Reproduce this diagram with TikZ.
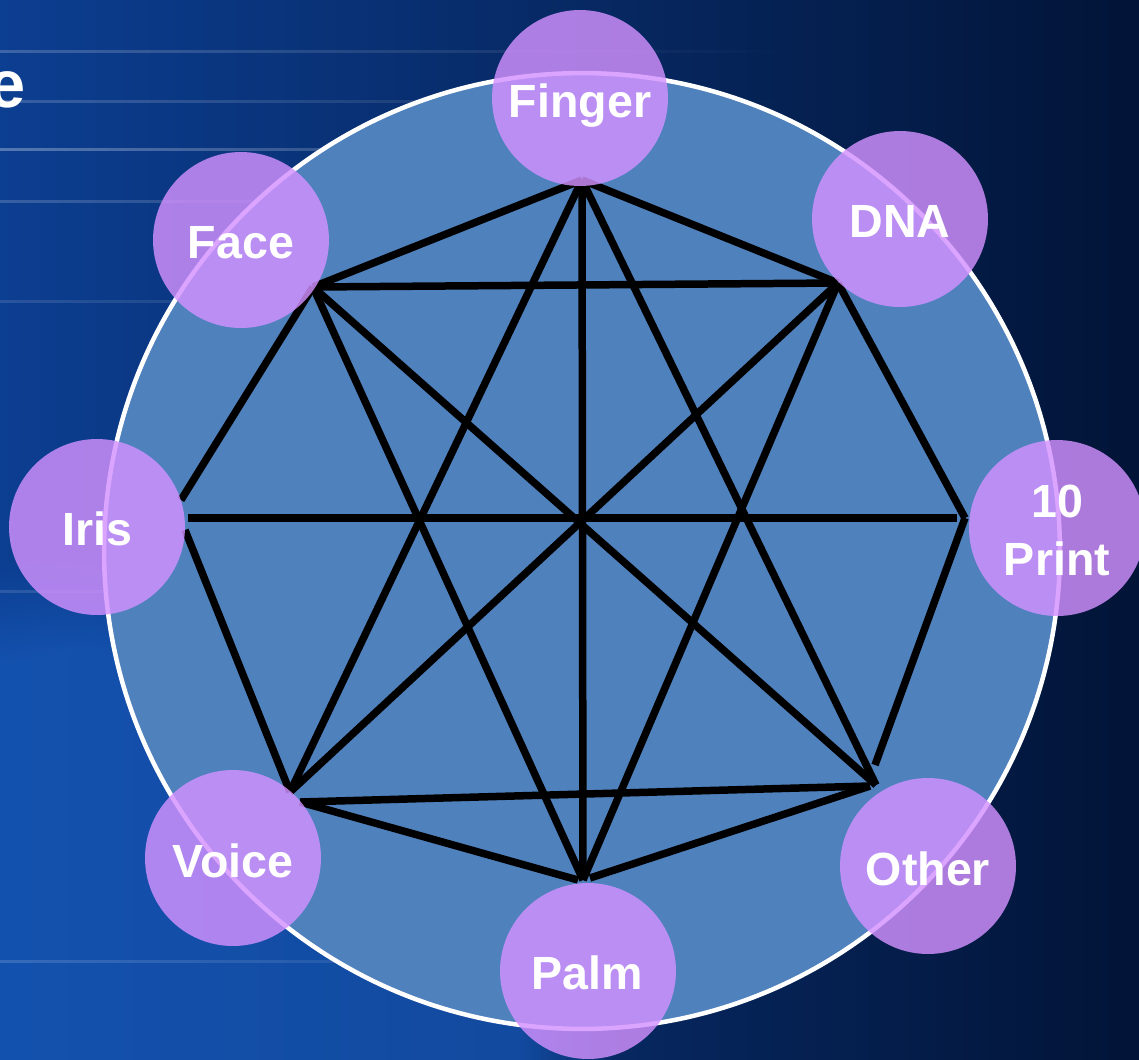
\documentclass[tikz,border=0pt]{standalone}
\usepackage{fontspec}
\setmainfont{Liberation Sans}
\usetikzlibrary{fadings}
\definecolor{bgL}{RGB}{12,62,145}
\definecolor{bgR}{RGB}{2,20,55}
\definecolor{bgGlow}{RGB}{25,95,195}
\definecolor{disc}{RGB}{79,129,189}
\definecolor{lilac}{RGB}{210,145,255}
\begin{document}
\begin{tikzpicture}[x=0.02cm,y=-0.02cm,
  link/.style={line width=0.15cm,black,line cap=butt},
  bubble/.style={circle,minimum size=3.52cm,inner sep=0pt,fill=lilac,fill opacity=0.82},
  tag/.style={text=white,font=\bfseries\fontsize{26.5}{32.9}\selectfont,inner sep=0pt,align=center},
]
\useasboundingbox (0,0) rectangle (1139,1059);
% background
\shade[left color=bgL,right color=bgR] (0,0) rectangle (1139,1059);
\fill[bgGlow,path fading=circle with fuzzy edge 20 percent,opacity=0.6] (120,1050) circle[radius=10cm];
\foreach \yy/\oo in {50/0.2,100/0.18,148/0.3,200/0.18,300/0.12,590/0.12,960/0.15}{
  \fill[white,opacity=\oo,path fading=east] (0,\yy) rectangle (800,\yy+3);
}
\node[text=white,font=\bfseries\fontsize{38}{40}\selectfont,anchor=base west,inner sep=0pt] (etext) at (-12,107) {e};
% big disc
\node[circle,minimum size=19.12cm,inner sep=0pt,fill=disc,draw=white,line width=0.09cm] (disc) at (582,551) {};
% vertices
\coordinate (F) at (582,180);
\coordinate (Fa) at (313,287);
\coordinate (D) at (838,283);
\coordinate (P) at (965,518);
\coordinate (O) at (876,785);
\coordinate (Pa) at (583,880);
\coordinate (V) at (290,792);
\coordinate (I) at (181,500);
\coordinate (Il) at (188,518);
\coordinate (Pr) at (957,518);
\coordinate (Ib) at (185,530);
\coordinate (Ot) at (875,765);
\coordinate (Vb) at (300,802);
\coordinate (Ol) at (870,786);
\coordinate (Par) at (590,878);
\coordinate (Pal) at (578,880);
% connectors
\draw[link] (F) -- (Fa);
\draw[link] (F) -- (D);
\draw[link] (F) -- (V);
\draw[link] (F) -- (Pa);
\draw[link] (F) -- (O);
\draw[link] (Fa) -- (D);
\draw[link] (Fa) -- (I);
\draw[link] (Fa) -- (Pa);
\draw[link] (Fa) -- (O);
\draw[link] (D) -- (P);
\draw[link] (D) -- (V);
\draw[link] (D) -- (Pa);
\draw[link] (Il) -- (Pr);
\draw[link] (Ib) -- (V);
\draw[link] (P) -- (Ot);
\draw[link] (Vb) -- (Ol);
\draw[link] (Vb) -- (Pal);
\draw[link] (Par) -- (Ol);
% bubbles
\node[bubble] (finger) at (580,98) {};
\node[bubble] (dna) at (900,219) {};
\node[bubble] (print) at (1057,528) {};
\node[bubble] (other) at (928,866) {};
\node[bubble] (palm) at (588,971) {};
\node[bubble] (voice) at (233,858) {};
\node[bubble] (iris) at (97,527) {};
\node[bubble] (face) at (241,240) {};
% labels
\node[tag,anchor=base] (fingerT) at (580,117) {Finger};
\node[tag,anchor=base] (dnaT) at (900,237) {DNA};
\node[tag,anchor=north] (printT) at (1057,485) {10\\Print};
\node[tag,anchor=base] (otherT) at (928,885) {Other};
\node[tag,anchor=base] (palmT) at (587,989) {Palm};
\node[tag,anchor=base] (voiceT) at (233,877) {Voice};
\node[tag,anchor=base] (irisT) at (97,545) {Iris};
\node[tag,anchor=base] (faceT) at (241,258) {Face};
\end{tikzpicture}
\end{document}
